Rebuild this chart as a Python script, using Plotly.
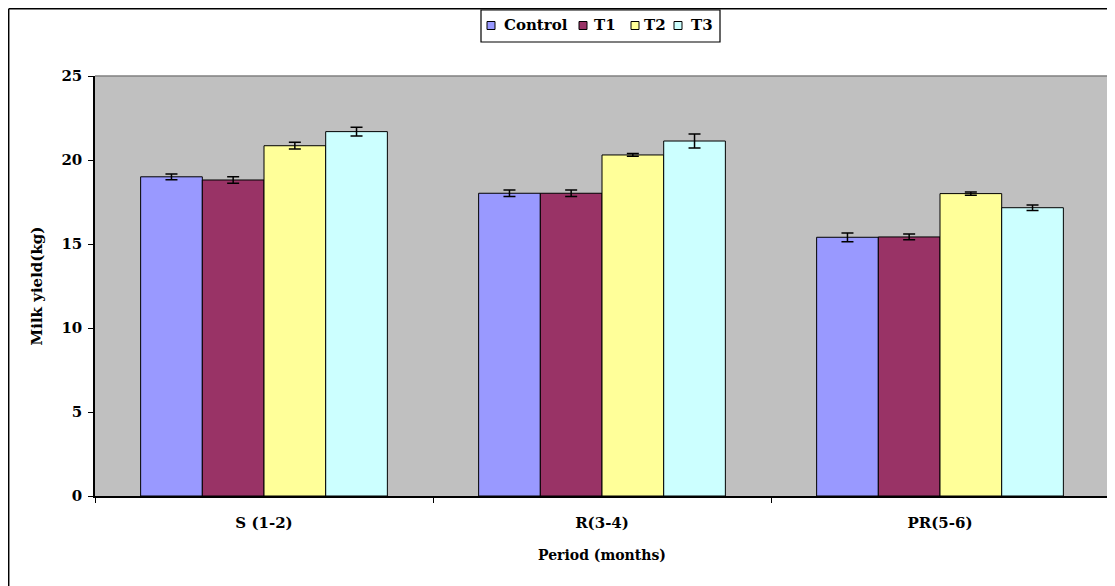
import plotly.graph_objects as go

categories = ["S (1-2)", "R(3-4)", "PR(5-6)"]
series_names = ["Control", "T1", "T2", "T3"]
control = [19.0, 18.02, 15.4]
t1 = [18.81, 18.02, 15.42]
t2 = [20.85, 20.3, 18.0]
t3 = [21.69, 21.13, 17.16]
control_err = [0.17, 0.2, 0.26]
t1_err = [0.2, 0.2, 0.17]
t2_err = [0.2, 0.08, 0.1]
t3_err = [0.26, 0.42, 0.16]
colors = ["#9999FF", "#993366", "#FFFF99", "#CCFFFF"]

values = [control, t1, t2, t3]
errors = [control_err, t1_err, t2_err, t3_err]

FONT = "DejaVu Serif"
W, H = 1115, 586
OFF = 8  # page body margin
L, R, T, B = 87, 14, 68, 98
pw, ph = W - L - R, H - T - B


def fx(p):
    """reference-screen x pixel -> paper x"""
    return (p - OFF - L) / pw


def fy(p):
    """reference-screen y pixel -> paper y"""
    return (H - B - (p - OFF)) / ph


fig = go.Figure()
for name, vals, errs, col in zip(series_names, values, errors, colors):
    fig.add_trace(go.Bar(
        name=name, x=categories, y=vals,
        marker=dict(color=col, line=dict(color="black", width=1)),
        error_y=dict(type="data", array=errs, visible=True, color="black",
                     thickness=1.5, width=6),
        showlegend=False,
    ))

shapes = [
    dict(type="line", xref="paper", yref="paper", x0=0, x1=1, y0=1, y1=1,
         line=dict(color="#808080", width=1.5)),
    dict(type="line", xref="paper", yref="paper", x0=1, x1=1, y0=0, y1=1,
         line=dict(color="#808080", width=1.5)),
    # outer chart border (top and left visible)
    dict(type="line", xref="paper", yref="paper", x0=fx(8.7), x1=fx(1130),
         y0=fy(8.7), y1=fy(8.7), line=dict(color="black", width=1.5)),
    dict(type="line", xref="paper", yref="paper", x0=fx(8.7), x1=fx(8.7),
         y0=fy(8.7), y1=fy(600), line=dict(color="black", width=1.5)),
    # legend box
    dict(type="rect", xref="paper", yref="paper", x0=fx(481), x1=fx(720),
         y0=fy(42), y1=fy(10), line=dict(color="black", width=1.2),
         fillcolor="white"),
]

annotations = []
sq_x = [487, 579, 631, 674]
txt_x = [502, 592, 642, 689]
for name, col, sx, tx in zip(series_names, colors, sq_x, txt_x):
    shapes.append(dict(type="rect", xref="paper", yref="paper",
                       x0=fx(sx), x1=fx(sx + 8), y0=fy(29.5), y1=fy(21.5),
                       line=dict(color="black", width=1), fillcolor=col))
    annotations.append(dict(text=name, xref="paper", yref="paper",
                            x=fx(tx), y=fy(25.5), xanchor="left", yanchor="middle",
                            showarrow=False,
                            font=dict(family=FONT, size=15, color="black", weight="bold")))

fig.update_layout(
    width=W, height=H,
    margin=dict(l=L, r=R, t=T, b=B),
    paper_bgcolor="white",
    plot_bgcolor="#C0C0C0",
    barmode="group",
    bargap=0.27,
    bargroupgap=0,
    font=dict(family=FONT, size=15, color="black", weight="bold"),
    showlegend=False,
    shapes=shapes,
    annotations=annotations,
    xaxis=dict(
        showgrid=False, showline=True, linecolor="black", linewidth=1.5,
        ticks="outside", ticklen=5, tickcolor="black", tickson="boundaries",
        ticklabelstandoff=12,
        tickfont=dict(family=FONT, size=15, weight="bold"),
        title=dict(text="Period (months)", standoff=19,
                   font=dict(family=FONT, size=14, weight="bold")),
    ),
    yaxis=dict(
        range=[0, 25], dtick=5, showgrid=False, zeroline=False,
        showline=True, linecolor="black", linewidth=1.5,
        ticks="outside", ticklen=5, tickcolor="black",
        ticklabelstandoff=3,
        tickfont=dict(family=FONT, size=15, weight="bold"),
        title=dict(text="Milk yield(kg)", standoff=15,
                   font=dict(family=FONT, size=15, weight="bold")),
    ),
)

fig.write_html("out.html")
